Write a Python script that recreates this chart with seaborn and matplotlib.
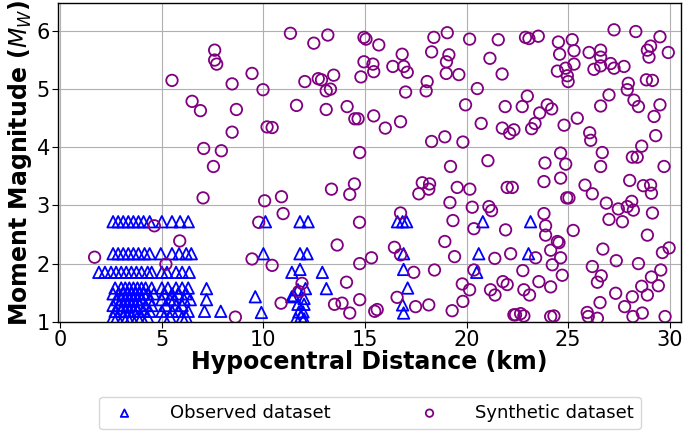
import numpy as np
import pandas as pd
import seaborn as sns
import matplotlib
matplotlib.use("Agg")
import matplotlib.pyplot as plt

# observed dataset (triangles) - hypocentral distance (km) / magnitude Mw
obs_dist = [
    2.6, 2.85, 3.1, 3.35, 3.6, 3.85, 4.1, 4.4, 5.0, 5.5, 5.9, 6.3, 10.1, 11.8, 12.2, 16.6, 16.85, 17.05, 20.8, 23.15,
    2.6, 2.85, 3.1, 3.35, 3.6, 3.85, 4.15, 4.4, 4.95, 5.5, 5.85, 6.2, 6.45, 10.0, 11.8, 12.15, 16.9, 20.6, 23.05,
    1.9, 2.2, 2.5, 2.75, 3.0, 3.25, 3.5, 3.75, 4.0, 4.3, 4.5, 5.0, 5.25, 5.7, 6.0, 6.35, 11.4, 12.9, 20.5, 11.8, 16.9,
    2.7, 3.0, 3.2, 3.4, 3.6, 3.8, 4.0, 4.2, 4.5, 5.0, 5.3, 5.7, 6.0, 6.3,
    2.6, 2.9, 3.1, 3.3, 3.5, 3.7, 3.9, 4.1, 4.3, 4.6, 5.1, 5.5, 5.8, 6.2,
    2.8, 3.0, 3.2, 3.4, 3.6, 3.8, 4.0, 4.4, 5.0, 5.4, 5.6, 6.1, 6.4,
    2.6, 2.9, 3.1, 3.3, 3.5, 3.7, 3.9, 4.2, 4.5, 5.2, 5.7, 6.0,
    2.7, 3.0, 3.2, 3.4, 3.6, 3.8, 4.1, 4.4, 5.0, 5.5, 5.8, 6.3,
    2.6, 2.8, 3.1, 3.3, 3.5, 3.8, 4.0, 4.3, 5.1, 5.4, 6.0, 6.2,
    7.2, 7.2, 7.1, 7.9, 9.6, 9.9, 11.7, 12.07, 13.1, 11.5, 12.0, 11.7, 12.0,
    11.75, 11.95, 11.85, 11.6, 12.0, 11.4, 17.1, 16.85, 16.9,
]
obs_mag = [
    2.72, 2.72, 2.72, 2.72, 2.72, 2.72, 2.72, 2.72, 2.72, 2.72, 2.72, 2.72, 2.72, 2.72, 2.72, 2.72, 2.72, 2.72, 2.72, 2.72,
    2.17, 2.17, 2.17, 2.17, 2.17, 2.17, 2.17, 2.17, 2.17, 2.17, 2.17, 2.17, 2.17, 2.17, 2.17, 2.17, 2.17, 2.17, 2.17,
    1.85, 1.85, 1.85, 1.85, 1.85, 1.85, 1.85, 1.85, 1.85, 1.85, 1.85, 1.85, 1.85, 1.85, 1.85, 1.85, 1.85, 1.85, 1.85, 1.9, 1.9,
    1.58, 1.58, 1.58, 1.58, 1.58, 1.58, 1.58, 1.58, 1.58, 1.58, 1.58, 1.58, 1.58, 1.58,
    1.48, 1.48, 1.48, 1.48, 1.48, 1.48, 1.48, 1.48, 1.48, 1.48, 1.48, 1.48, 1.48, 1.48,
    1.38, 1.38, 1.38, 1.38, 1.38, 1.38, 1.38, 1.38, 1.38, 1.38, 1.38, 1.38, 1.38,
    1.28, 1.28, 1.28, 1.28, 1.28, 1.28, 1.28, 1.28, 1.28, 1.28, 1.28, 1.28,
    1.18, 1.18, 1.18, 1.18, 1.18, 1.18, 1.18, 1.18, 1.18, 1.18, 1.18, 1.18,
    1.08, 1.08, 1.08, 1.08, 1.08, 1.08, 1.08, 1.08, 1.08, 1.08, 1.08, 1.08,
    1.57, 1.38, 1.18, 1.18, 1.43, 1.16, 1.55, 1.57, 1.57, 1.45, 1.4, 1.3, 1.3,
    1.17, 1.17, 1.09, 1.05, 1.05, 1.43, 1.58, 1.29, 1.15,
]

# synthetic dataset (circles)
syn_dist = [
    7.6, 7.6, 7.7, 5.5, 6.49, 6.9, 7.06, 7.54,
    11.33, 13.17, 12.48, 9.44, 8.46, 9.98, 12.04, 12.7, 12.86, 13.46, 13.3, 13.09, 14.8, 8.67, 11.63, 13.09,
    14.12, 14.5, 14.66, 8.46, 10.18, 10.43, 7.93, 14.74,
    14.95, 15.05, 15.68, 18.39, 19.05, 20.15, 21.56, 16.83, 18.28, 19.13, 19.01, 21.15, 14.95, 15.39, 15.43,
    16.37, 16.91, 17.08, 19.0, 19.62, 21.75, 18.06, 18.01, 17.0, 20.53, 19.95, 21.9, 15.43, 16.0, 16.75,
    20.72, 21.76, 22.12, 22.33, 18.28, 18.93, 19.82, 19.21, 21.05,
    22.9, 23.07, 23.53, 27.26, 28.33, 24.52, 25.2, 24.58, 25.29, 26.03, 26.6, 26.6, 26.6, 25.29, 24.47,
    24.88, 24.96, 25.0, 26.27, 27.09, 27.26, 27.75, 29.52, 29.06, 28.9, 28.98, 29.93, 27.96, 27.91, 28.85,
    29.15, 22.99, 22.74, 23.97, 24.19, 23.6, 23.37, 23.2, 24.8, 25.45, 27.01, 26.6, 28.24, 28.46, 29.52,
    29.23, 26.06, 26.11, 29.31, 28.62, 24.63, 24.88, 23.86, 26.68, 26.6, 28.16, 28.4, 29.72,
    7.03, 4.63, 5.88, 1.69, 5.2,
    13.35, 14.48, 14.25, 10.06, 10.89, 10.97, 9.77, 14.73, 13.63, 9.44, 10.43, 14.74, 11.9, 11.74, 14.09,
    10.87, 13.5, 13.87, 14.74, 14.25, 8.62,
    17.82, 18.18, 18.14, 17.65, 19.54, 20.16, 22.0, 22.25, 19.18, 20.28, 21.1, 21.23, 16.75, 19.33, 20.36,
    21.92, 18.93, 16.45, 16.75, 15.32, 19.41, 21.39, 22.17, 17.4, 18.42, 20.36, 19.79, 20.15, 21.18, 21.4,
    21.79, 22.0, 16.58, 17.49, 18.14, 15.48, 15.6, 19.29, 19.82, 22.33,
    23.81, 24.63, 24.93, 25.04, 25.83, 26.19, 28.03, 28.7, 29.06, 29.1, 26.88, 27.47, 27.91, 28.13, 28.21,
    29.15, 27.01, 27.67, 23.81, 23.89, 23.89, 25.25, 24.47, 24.55, 28.9, 24.14, 24.63, 23.4, 24.22, 26.71,
    27.37, 29.64, 29.97, 26.19, 26.63, 28.46, 24.71, 22.77, 29.56, 29.1, 26.44, 23.56, 24.14, 22.82, 23.1,
    28.62, 29.44, 28.9, 27.34, 28.16, 26.57, 27.78, 28.65, 25.94, 25.99, 26.44, 28.19, 29.77, 22.41, 22.66,
    22.82, 24.14, 24.3,
]
syn_mag = [
    5.67, 5.5, 5.43, 5.15, 4.79, 4.63, 3.98, 3.67,
    5.96, 5.93, 5.79, 5.27, 5.09, 4.99, 5.13, 5.18, 5.16, 5.24, 5.0, 4.97, 5.21, 4.65, 4.72, 4.65,
    4.7, 4.49, 4.49, 4.26, 4.35, 4.34, 3.94, 3.91,
    5.89, 5.86, 5.76, 5.89, 5.97, 5.86, 5.85, 5.6, 5.64, 5.59, 5.47, 5.53, 5.47, 5.43, 5.3,
    5.39, 5.39, 5.29, 5.27, 5.25, 5.26, 5.13, 4.97, 4.95, 5.01, 4.73, 4.7, 4.54, 4.33, 4.44,
    4.41, 4.33, 4.24, 4.3, 4.1, 4.18, 4.09, 3.67, 3.77,
    5.89, 5.87, 5.91, 6.02, 5.99, 5.81, 5.85, 5.6, 5.66, 5.63, 5.67, 5.55, 5.4, 5.43, 5.31,
    5.36, 5.23, 5.13, 5.34, 5.44, 5.36, 5.39, 5.9, 5.74, 5.67, 5.55, 5.63, 5.1, 4.99, 5.16,
    5.15, 4.88, 4.7, 4.73, 4.66, 4.59, 4.41, 4.32, 4.38, 4.5, 4.9, 4.71, 4.81, 4.7, 4.73,
    4.53, 4.25, 4.12, 4.2, 4.02, 3.9, 3.71, 3.73, 3.91, 3.67, 3.83, 3.83, 3.67,
    3.13, 2.65, 2.39, 2.11, 1.99,
    3.28, 3.37, 3.19, 3.08, 3.15, 2.86, 2.71, 2.71, 2.32, 2.08, 1.97, 2.0, 1.66, 1.52, 1.68,
    1.32, 1.3, 1.32, 1.38, 1.15, 1.08,
    3.39, 3.37, 3.28, 3.2, 3.31, 3.28, 3.31, 3.31, 3.05, 2.97, 2.98, 2.91, 2.87, 2.74, 2.6,
    2.58, 2.38, 2.28, 2.15, 2.1, 2.12, 2.09, 2.17, 1.85, 1.89, 1.89, 1.65, 1.55, 1.55, 1.46,
    1.69, 1.64, 1.42, 1.26, 1.29, 1.18, 1.21, 1.19, 1.35, 1.12,
    3.41, 3.47, 3.13, 3.13, 3.35, 3.2, 3.43, 3.34, 3.35, 3.21, 3.04, 2.94, 2.98, 3.07, 2.92,
    2.87, 2.76, 2.72, 2.86, 2.65, 2.49, 2.57, 2.38, 2.36, 2.49, 2.23, 2.1, 2.1, 1.98, 2.25,
    2.05, 2.19, 2.27, 1.95, 1.79, 2.0, 1.8, 1.88, 1.89, 1.77, 1.68, 1.69, 1.6, 1.55, 1.46,
    1.61, 1.62, 1.46, 1.49, 1.43, 1.33, 1.26, 1.15, 1.16, 1.09, 1.06, 1.09, 1.09, 1.12, 1.14,
    1.1, 1.09, 1.1,
]

obs = pd.DataFrame({'dist': obs_dist, 'mag': obs_mag})
syn = pd.DataFrame({'dist': syn_dist, 'mag': syn_mag})

sns.set_style("whitegrid", {"axes.edgecolor": "black", "grid.color": "#b0b0b0",
                            "xtick.bottom": True, "ytick.left": True,
                            "text.color": "black", "axes.labelcolor": "black",
                            "xtick.color": "black", "ytick.color": "black"})
plt.rcParams['font.family'] = ['DejaVu Sans']

fig = plt.figure(figsize=(6.85, 4.36), dpi=100)
ax = fig.add_axes([0.085, 0.262, 0.909, 0.731])

sns.scatterplot(data=obs, x='dist', y='mag', marker='^', s=68, facecolors='none',
                edgecolor='blue', linewidth=1.3, label='Observed dataset', ax=ax, zorder=3)
sns.scatterplot(data=syn, x='dist', y='mag', marker='o', s=68, facecolors='none',
                edgecolor='purple', linewidth=1.3, label='Synthetic dataset', ax=ax, zorder=3)

ax.set_xlim(-0.1, 30.55)
ax.set_ylim(1, 6.48)
ax.set_xticks([0, 5, 10, 15, 20, 25, 30])
ax.set_yticks([1, 2, 3, 4, 5, 6])
ax.tick_params(labelsize=15, length=4, color='black', labelcolor='black', pad=2)
for s in ax.spines.values():
    s.set_color('black')
    s.set_linewidth(1.0)

ax.set_xlabel('Hypocentral Distance (km)', fontsize=17, fontweight='bold', labelpad=0, color='black')
ax.set_ylabel('Moment Magnitude ($M_W$)', fontsize=17, fontweight='bold', labelpad=2, color='black')

leg = ax.legend(loc='center', bbox_to_anchor=(0.54, 0.053), bbox_transform=fig.transFigure,
                ncol=2, fontsize=13, markerscale=0.65, columnspacing=4.5, handletextpad=1.5,
                frameon=True, edgecolor='#cccccc')
for t in leg.get_texts():
    t.set_color('black')

fig.savefig('out.png', dpi=100)
